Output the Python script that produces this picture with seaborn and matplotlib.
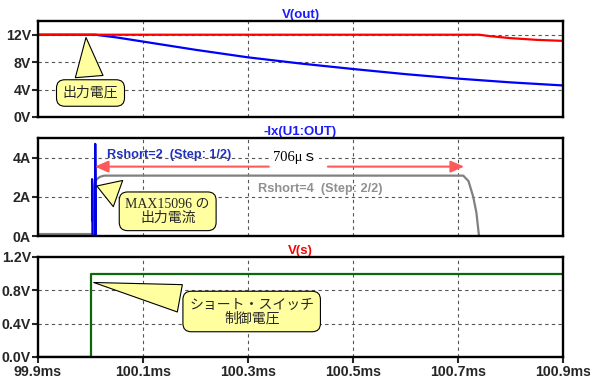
import numpy as np
import pandas as pd
import matplotlib
matplotlib.use('Agg')
import matplotlib.pyplot as plt
import seaborn as sns

# =====================================
# Data (time in ms)
# =====================================
vout2_t = [99.9, 100.009, 100.05, 100.1, 100.2, 100.3, 100.4, 100.5, 100.6, 100.7, 100.8, 100.9]
vout2_v = [12.0, 12.0, 11.6, 11.0, 9.8, 8.7, 7.8, 7.0, 6.25, 5.6, 5.05, 4.6]
vout4_t = [99.9, 100.74, 100.76, 100.8, 100.85, 100.9]
vout4_v = [12.0, 12.0, 11.8, 11.5, 11.25, 11.1]

ix2_t = [100.003, 100.003, 100.004, 100.009, 100.009, 100.010]
ix2_i = [0.8, 2.9, 0.0, 0.0, 4.7, 0.0]
ix4_t = [99.9, 100.004, 100.005, 100.008, 100.012, 100.018, 100.026, 100.71, 100.72, 100.729, 100.735, 100.74]
ix4_i = [0.1, 0.1, 2.2, 2.7, 2.9, 3.02, 3.08, 3.08, 2.8, 2.0, 1.2, 0.0]

vs_t = [99.9, 100.001, 100.001, 100.9]
vs_v = [0.0, 0.0, 1.0, 1.0]

x_ticks = [99.9, 100.1, 100.3, 100.5, 100.7, 100.9]
x_grid = [100.1, 100.3, 100.5, 100.7]

# =====================================
# Style
# =====================================
sns.set_style('white')
plt.rcParams['font.family'] = ['Liberation Sans', 'Noto Sans CJK JP', 'DejaVu Sans']

fig = plt.figure(figsize=(5.9, 3.85), dpi=100)
ax1 = fig.add_axes([38/590, 1-117/385, 525/590, 96/385])
ax2 = fig.add_axes([38/590, 1-236/385, 525/590, 98/385])
ax3 = fig.add_axes([38/590, 1-357/385, 525/590, 100/385])

lw = 1.6
sns.lineplot(x=vout2_t, y=vout2_v, ax=ax1, color='#0000ff', lw=lw, estimator=None, sort=False)
sns.lineplot(x=vout4_t, y=vout4_v, ax=ax1, color='#ff0000', lw=lw, estimator=None, sort=False)
sns.lineplot(x=ix4_t, y=ix4_i, ax=ax2, color='#808080', lw=lw, estimator=None, sort=False)
sns.lineplot(x=ix2_t, y=ix2_i, ax=ax2, color='#0000e0', lw=lw, estimator=None, sort=False)
sns.lineplot(x=vs_t, y=vs_v, ax=ax3, color='#0a6a0a', lw=lw, estimator=None, sort=False)

tick_fs = 10.2
panels = [
    (ax1, (0, 14), [0, 4, 8, 12], ['0V', '4V', '8V', '12V'], 'V(out)', '#1a1aff'),
    (ax2, (0, 5), [0, 2, 4], ['0A', '2A', '4A'], '-Ix(U1:OUT)', '#1a1aff'),
    (ax3, (0, 1.2), [0, 0.4, 0.8, 1.2], ['0.0V', '0.4V', '0.8V', '1.2V'], 'V(s)', '#ff0000'),
]
for ax, ylim, yt, ylab, title, tcol in panels:
    ax.set_xlim(99.9, 100.9)
    ax.set_ylim(*ylim)
    ax.set_yticks(yt)
    ax.set_yticklabels(ylab, fontsize=tick_fs, fontweight='bold')
    for g in x_grid:
        ax.axvline(g, color='#555555', lw=0.8, ls=(0, (3, 3)), zorder=0)
    for v in yt[1:]:
        if v < ylim[1]:
            ax.axhline(v, color='#555555', lw=0.8, ls=(0, (3, 3)), zorder=0)
    for s in ax.spines.values():
        s.set_linewidth(1.7)
        s.set_color('black')
        s.set_zorder(5)
    ax.tick_params(axis='y', left=True, length=4, width=1.5, pad=1)
    ax.set_xlabel('')
    ax.set_ylabel('')
    ax.set_title(title, color=tcol, fontsize=9.5, fontweight='bold', pad=2)

ax1.set_xticks([])
ax2.set_xticks([])
ax3.set_xticks(x_ticks)
ax3.set_xticklabels([f'{t:.1f}ms' for t in x_ticks], fontsize=tick_fs, fontweight='bold')
ax3.tick_params(axis='x', bottom=True, length=4, width=1.5, pad=2)

# =====================================
# Annotations
# =====================================
ax2.text(100.031, 4.15, 'Rshort=2  (Step: 1/2)', color='#2030c0', fontsize=9.2, fontweight='bold', va='center')
ax2.text(100.319, 2.41, 'Rshort=4  (Step: 2/2)', color='#909090', fontsize=9.2, fontweight='bold', va='center')
ax2.text(100.39, 4.0, '706μｓ', color='black', fontsize=10.5, ha='center', va='center',
         family=['Liberation Serif', 'Noto Sans CJK JP'],
         bbox=dict(boxstyle='square,pad=0.1', fc='white', ec='none'))
arrow = dict(arrowstyle='-|>,head_length=0.8,head_width=0.35', color='#ff5a5a', lw=1.5)
ax2.annotate('', xy=(100.003, 3.54), xytext=(100.345, 3.54), arrowprops=arrow)
ax2.annotate('', xy=(100.717, 3.54), xytext=(100.447, 3.54), arrowprops=arrow)

box = dict(boxstyle='round,pad=0.45,rounding_size=0.6', fc='#ffffa0', ec='black', lw=0.8)
wedge = dict(arrowstyle='wedge,tail_width=2.0,shrink_factor=0.5', fc='#ffffa0', ec='black', lw=0.8)
ax1.annotate('出力電圧', xy=(99.991, 12.0), xytext=(100.0, 3.5), fontsize=10,
             ha='center', va='center', bbox=box, arrowprops=wedge,
             family=['Noto Sans CJK JP'])
ax2.annotate('MAX15096 の\n出力電流', xy=(100.007, 2.6), xytext=(100.147, 1.26), fontsize=10,
             ha='center', va='center', bbox=box, arrowprops=wedge, linespacing=1.0,
             family=['Liberation Serif', 'Noto Sans CJK JP'])
ax3.annotate('ショート・スイッチ\n制御電圧', xy=(100.001, 0.9), xytext=(100.307, 0.546), fontsize=10,
             ha='center', va='center', bbox=box, arrowprops=wedge, linespacing=1.0,
             family=['Noto Sans CJK JP'])

fig.savefig('out.png', dpi=100)
